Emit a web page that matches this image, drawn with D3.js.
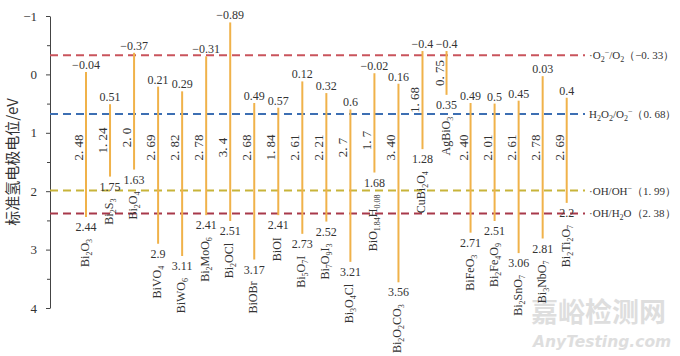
<!DOCTYPE html>
<html><head><meta charset="utf-8">
<script src="https://cdn.jsdelivr.net/npm/d3@7"></script>
<style>body{margin:0;background:#fff}</style>
</head><body>
<svg id="chart" width="680" height="356"></svg>
<script>
// ---- data ----
const categories = ["Bi2O3","Bi2S3","Bi2O4","BiVO4","BiWO6","Bi2MoO6","Bi2OCl","BiOBr","BiOI","Bi5O7I","Bi7O9I3","Bi3O4Cl","BiO1.84H0.08","Bi2O2CO3","CuBi2O4","AgBiO3","BiFeO3","Bi2Fe4O9","Bi2SnO7","Bi3NbO7","Bi2Ti2O7"];
const topValues = [-0.04,0.51,-0.37,0.21,0.29,-0.31,-0.89,0.49,0.57,0.12,0.32,0.6,-0.02,0.16,-0.4,-0.4,0.49,0.5,0.45,0.03,0.4];
const bottomValues = [2.44,1.75,1.63,2.9,3.11,2.41,2.51,3.17,2.41,2.73,2.52,3.21,1.68,3.56,1.28,0.35,2.71,2.51,3.06,2.81,2.2];
const gapLabels = ["2.48","1.24","2.0","2.69","2.82","2.78","3.4","2.68","1.84","2.61","2.21","2.7","1.7","3.40","1.68","0.75","2.40","2.01","2.61","2.78","2.69"];
const yTicks = [-1,0,1,2,3,4];
const yMinorTicks = [-0.5,0.5,1.5,2.5,3.5];
const refLevels = [-0.33,0.68,1.99,2.38];
const refNames = ["·O_2^−/O_2","H_2O_2/O_2^−","·OH/OH^−","·OH/H_2O"];
const yTitle = "标准氢电极电位/eV";
const watermark = ["嘉峪检测网","AnyTesting.com"];

// ---- styles ----
const refColors = ["#c9545c","#3d6fb3","#c8b43a","#a8394a"];
const barColor = "#f0b24a";
const serif = "'Liberation Serif','Times New Roman',serif";

const svg = d3.select("#chart");
const y = d3.scaleLinear().domain([-1,4]).range([16,308]);
const x = d3.scalePoint().domain(d3.range(categories.length)).range([86,566.7]);
const fmt = v => String(v).replace("-","−");
const spaced = s => s.replace("-","−").replace(".",". ");

// watermark (underneath)
svg.append("text").attr("x",531).attr("y",322).attr("font-family","'Noto Sans CJK SC',sans-serif")
  .attr("font-weight","bold").attr("font-size",27).attr("fill","#dedede").text(watermark[0]);
svg.append("text").attr("x",533).attr("y",347).attr("font-family","'DejaVu Sans',sans-serif")
  .attr("font-weight","bold").attr("font-style","italic").attr("font-size",15.5).attr("fill","#dedede").text(watermark[1]);

// axis
const axis = svg.append("g").attr("transform","translate(50,0)")
  .call(d3.axisLeft(y).tickValues(yTicks).tickSize(4).tickSizeOuter(0).tickPadding(9).tickFormat(fmt));
axis.selectAll("text").attr("font-family",serif).attr("font-size",13).attr("fill","#333");
axis.selectAll("line,path").attr("stroke","#444");
const minor = svg.append("g").attr("transform","translate(50,0)")
  .call(d3.axisLeft(y).tickValues(yMinorTicks).tickSize(3).tickFormat(""));
minor.select(".domain").remove();
minor.selectAll("line").attr("stroke","#444");

// y title
svg.append("text").attr("transform",`translate(18,${162}) rotate(-90)`).attr("text-anchor","middle")
  .attr("font-family","'Noto Sans CJK SC',sans-serif").attr("font-size",15).attr("fill","#333").text(yTitle);

// reference dashed lines
refLevels.forEach((v,i)=>{
  svg.append("line").attr("x1",50).attr("x2",585).attr("y1",y(v)).attr("y2",y(v))
    .attr("stroke",refColors[i]).attr("stroke-width",2).attr("stroke-dasharray","8,5");
  const t = svg.append("text").attr("x",589).attr("y",y(v)+4).attr("font-family",serif)
    .attr("font-size",11).attr("fill","#333");
  let off = 0;
  const s = refNames[i];
  for (let k=0;k<s.length;k++){
    let ch = s[k], target = 0, size = 11;
    if (ch==="_"){ ch = s[++k]; target = 3; size = 8; }
    else if (ch==="^"){ ch = s[++k]; target = -4; size = 8; }
    t.append("tspan").attr("dy",target-off).attr("font-size",size).text(ch);
    off = target;
  }
  t.append("tspan").attr("dy",-off).text("（"+spaced(String(v))+"）");
});

// bars
const idx = d3.range(categories.length);
svg.append("g").selectAll("line").data(idx).join("line")
  .attr("x1",i=>x(i)).attr("x2",i=>x(i)).attr("y1",i=>y(topValues[i])).attr("y2",i=>y(bottomValues[i]))
  .attr("stroke",barColor).attr("stroke-width",2);

// top values
svg.append("g").selectAll("text").data(idx).join("text")
  .attr("x",i=>x(i)).attr("y",i=>y(topValues[i])-3).attr("text-anchor","middle")
  .attr("font-family",serif).attr("font-size",12).attr("fill","#333").text(i=>fmt(topValues[i]));
// bottom values
svg.append("g").selectAll("text").data(idx).join("text")
  .attr("x",i=>x(i)).attr("y",i=>y(bottomValues[i])+14).attr("text-anchor","middle")
  .attr("font-family",serif).attr("font-size",12).attr("fill","#333").text(i=>fmt(bottomValues[i]));
// gap labels
svg.append("g").selectAll("text").data(idx).join("text")
  .attr("transform",i=>{
    const yt=y(topValues[i]), yb=y(bottomValues[i]);
    const len = bottomValues[i]-topValues[i];
    const c = len<1.69 ? (yt+yb)/2 : Math.min(y(1.25), yb-32);
    return `translate(${x(i)-3},${c}) rotate(-90)`;})
  .attr("text-anchor","middle").attr("font-family",serif).attr("font-size",13).attr("fill","#333")
  .text(i=>spaced(gapLabels[i]));
// names
const ng = svg.append("g");
idx.forEach(i=>{
  const t = ng.append("text").attr("transform",`translate(${x(i)+3},${y(bottomValues[i])+22}) rotate(-90)`)
    .attr("text-anchor","end").attr("font-family",serif).attr("font-size",12).attr("fill","#333");
  const parts = categories[i].split(/(\d+(?:\.\d+)?)/).filter(p=>p!=="");
  let off = 0;
  parts.forEach(p=>{
    const sub = /^\d/.test(p);
    const target = sub?3:0;
    t.append("tspan").attr("dy",target-off).attr("font-size",sub?8:12).text(p);
    off = target;
  });
});
</script>
</body></html>
